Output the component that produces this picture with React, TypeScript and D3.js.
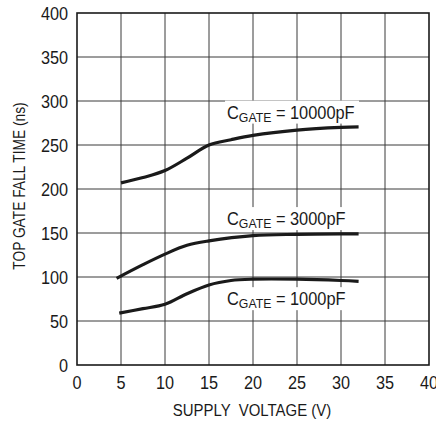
import React from "react";
import * as d3 from "d3";

// supply voltage (V) vs top gate fall time (ns)
const volts10000 = [5, 7.5, 10, 12.5, 15, 17.5, 20, 25, 30, 32];
const fall10000 = [207, 213, 221, 235, 250, 256, 261, 267, 270, 270.5];

const volts3000 = [4.5, 7.5, 10, 12.5, 15, 20, 25, 30, 32];
const fall3000 = [98.5, 114, 126, 136, 141, 147, 148.5, 149, 149];

const volts1000 = [4.8, 7.5, 10, 12.5, 15, 17.5, 20, 25, 30, 32];
const fall1000 = [59, 64, 69, 81, 91, 96, 97.5, 97.5, 96, 95];

const xTicks = [0, 5, 10, 15, 20, 25, 30, 35, 40];
const yTicks = [0, 50, 100, 150, 200, 250, 300, 350, 400];

// label anchors in data units (start voltage, baseline value)
const labels = [
  { value: "10000pF", x: 17.05, y: 280 },
  { value: "3000pF", x: 17.05, y: 159 },
  { value: "1000pF", x: 17.05, y: 68 },
];

const width = 436;
const height = 421;
const margin = { top: 13, right: 7, bottom: 56, left: 77 };

const font = "'Liberation Sans', Arial, sans-serif";
const ink = "#1a1a1a";

export default function App() {
  const x = d3.scaleLinear().domain([0, 40]).range([margin.left, width - margin.right]);
  const y = d3.scaleLinear().domain([0, 400]).range([height - margin.bottom, margin.top]);

  const line = d3
    .line<[number, number]>()
    .x((d) => x(d[0]))
    .y((d) => y(d[1]))
    .curve(d3.curveCatmullRom);

  const series = [
    d3.zip(volts10000, fall10000) as [number, number][],
    d3.zip(volts3000, fall3000) as [number, number][],
    d3.zip(volts1000, fall1000) as [number, number][],
  ];

  const x0 = x(0);
  const x1 = x(40);
  const y0 = y(0);
  const y1 = y(400);

  return (
    <svg
      width={width}
      height={height}
      style={{ position: "absolute", left: 0, top: 0, background: "#fff" }}
      fontFamily={font}
    >
      {/* grid */}
      <g stroke="#3a3a3a" strokeWidth={1}>
        {xTicks.slice(1, -1).map((t) => (
          <line key={"gx" + t} x1={x(t)} x2={x(t)} y1={y1} y2={y0} />
        ))}
        {yTicks.slice(1, -1).map((t) => (
          <line key={"gy" + t} x1={x0} x2={x1} y1={y(t)} y2={y(t)} />
        ))}
      </g>

      {/* curves */}
      <g fill="none" stroke={ink} strokeWidth={3.2} strokeLinecap="butt">
        {series.map((s, i) => (
          <path key={i} d={line(s) ?? ""} />
        ))}
      </g>

      {/* curve labels on white boxes */}
      {labels.map((l) => (
        <g key={l.value} transform={`translate(${x(l.x)},${y(l.y)})`}>
          <rect x={-2} y={-18} width={l.value.length > 6 ? 134 : 122} height={23} fill="#fff" />
          <text fontSize={18} fill={ink} transform="scale(0.91,1)">
            C
            <tspan fontSize={13.5} dy={3}>GATE</tspan>
            <tspan dy={-3}> = {l.value}</tspan>
          </text>
        </g>
      ))}

      {/* frame */}
      <rect x={x0} y={y1} width={x1 - x0} height={y0 - y1} fill="none" stroke={ink} strokeWidth={1.6} />

      {/* ticks */}
      <g fontSize={17.5} fill={ink}>
        {yTicks.map((t) => (
          <text key={"ty" + t} textAnchor="end" transform={`translate(${x0 - 9},${y(t) + 6.5}) scale(0.93,1)`}>
            {t}
          </text>
        ))}
        {xTicks.map((t) => (
          <text key={"tx" + t} textAnchor="middle" transform={`translate(${x(t)},${y0 + 24}) scale(0.93,1)`}>
            {t}
          </text>
        ))}
      </g>

      {/* axis titles */}
      <text
        transform={`translate(${(x0 + x1) / 2 - 1},${height - 5}) scale(0.88,1)`}
        textAnchor="middle"
        fontSize={17}
        fill={ink}
        style={{ whiteSpace: "pre" }}
      >
        SUPPLY  VOLTAGE (V)
      </text>
      <text
        transform={`translate(25,186) rotate(-90) scale(0.81,1)`}
        textAnchor="middle"
        fontSize={17}
        fill={ink}
      >
        TOP GATE FALL TIME (ns)
      </text>
    </svg>
  );
}
